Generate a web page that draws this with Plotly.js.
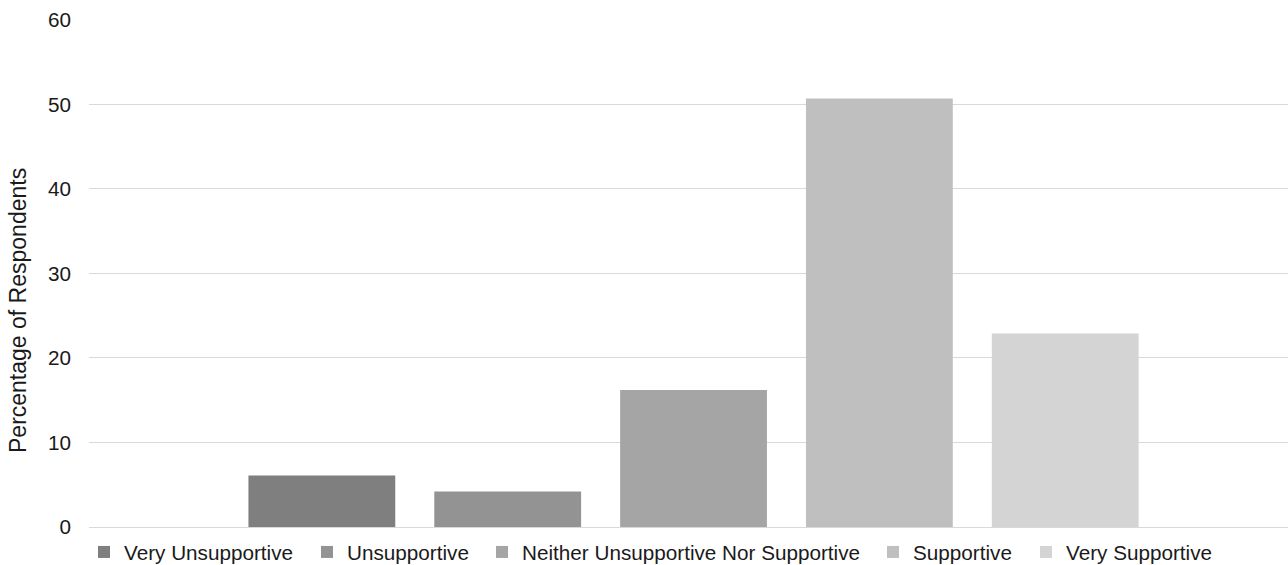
<!DOCTYPE html>
<html>
<head>
<meta charset="utf-8">
<script src="https://cdn.plot.ly/plotly-3.0.1.min.js"></script>
<style>html,body{margin:0;padding:0;background:#fff;}#chart{width:1288px;height:565px;}</style>
</head>
<body>
<div id="chart"></div>
<script>
const categories = [""];
const seriesNames = ["Very Unsupportive", "Unsupportive", "Neither Unsupportive Nor Supportive", "Supportive", "Very Supportive"];
const seriesValues = [6.1, 4.2, 16.2, 50.7, 22.9];
const seriesColors = ["#7f7f7f", "#939393", "#a5a5a5", "#bfbfbf", "#d4d4d4"];
const yTicks = [0, 10, 20, 30, 40, 50, 60];
const yTitle = "Percentage of Respondents";

// legend text left edges (px) in the reference
const legendTextX = [124, 347, 522, 913, 1066];
const W = 1288, H = 565;
const TEXT = "#1a1a1a";
const FS = 20.7;

const legendIds = ["legend", "legend2", "legend3", "legend4", "legend5"];

const traces = seriesNames.map((name, i) => ({
  type: "bar",
  name: name,
  x: categories,
  y: [seriesValues[i]],
  marker: {color: seriesColors[i], line: {width: 0}},
  legend: legendIds[i],
  hoverinfo: "name+y"
}));

const layout = {
  width: W, height: H,
  margin: {l: 89, r: 0, t: 19, b: 38},
  paper_bgcolor: "#ffffff", plot_bgcolor: "#ffffff",
  font: {family: "Liberation Sans, Arial, sans-serif", size: FS, color: TEXT},
  barmode: "group",
  bargap: 0.225,
  bargroupgap: 0.21,
  showlegend: true,
  xaxis: {range: [-0.5042, 0.4958], showticklabels: false, showgrid: false, zeroline: false, showline: false, ticks: "", fixedrange: true},
  yaxis: {
    range: [0, 60.1], tickvals: yTicks, ticktext: yTicks.map(String),
    showgrid: true, gridcolor: "#d9d9d9", gridwidth: 1,
    zeroline: true, zerolinecolor: "#d9d9d9", zerolinewidth: 1,
    showline: false, ticks: "", ticklabelstandoff: 17,
    tickfont: {size: FS, color: TEXT}
  },
  annotations: [{
    text: yTitle, textangle: -90, showarrow: false,
    xref: "paper", yref: "paper",
    x: (18 - 89) / 1199, y: (527 - 311) / 508,
    xanchor: "center", yanchor: "middle",
    font: {size: 23, color: TEXT}
  }]
};

legendIds.forEach((id, i) => {
  layout[id] = {
    xref: "container", yref: "container",
    x: (legendTextX[i] - 40) / W, xanchor: "left",
    y: 1 - 552 / H, yanchor: "middle",
    orientation: "h", bgcolor: "rgba(0,0,0,0)", borderwidth: 0,
    font: {size: FS, color: TEXT}, itemwidth: 30
  };
});

Plotly.newPlot("chart", traces, layout, {displayModeBar: false, staticPlot: true});
</script>
</body>
</html>
